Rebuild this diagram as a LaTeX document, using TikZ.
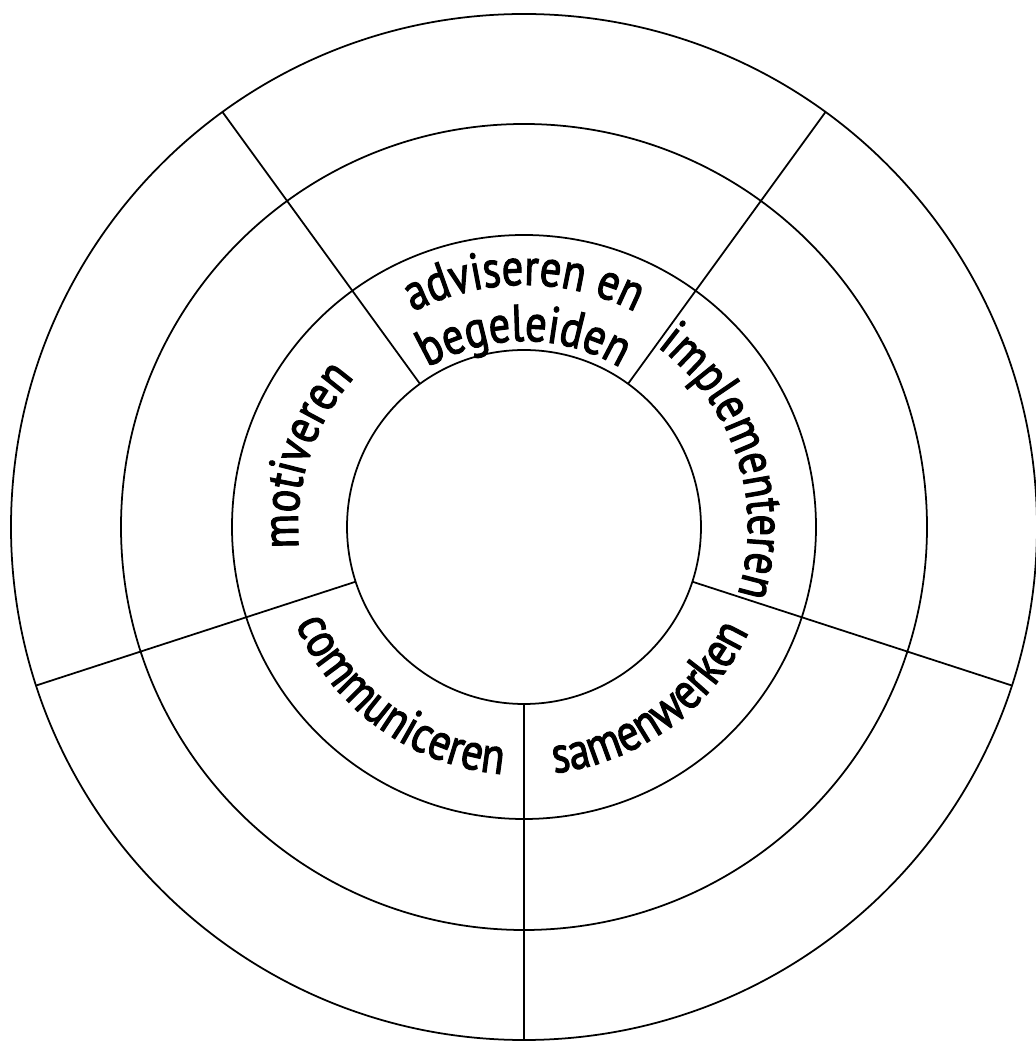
\documentclass[tikz,border=0pt]{standalone}
\usepackage{fontspec}
\newfontfamily\ptsans{PT Sans}[FakeStretch=0.82, FakeBold=2]
\usetikzlibrary{math, calc}
\usetikzlibrary{decorations.text}
\newcommand{\ringfont}{\ptsans\fontsize{29.5}{34}\selectfont}

\begin{document}
\begin{tikzpicture}[
  wheel/.style={line width=1pt},
  ringtext/.style={decorate, decoration={text along path, text align=center, text={|\ringfont|#1}}}
]
\tikzmath{
\ra=3.54;
\rb=5.84;
\rc=8.06;
\rd=10.26;
}
\useasboundingbox (-10.48,-10.28) rectangle (10.22,10.54);
\coordinate (C) at (0,0);

\draw[wheel] (C) circle(\ra);
\draw[wheel] (C) circle(\rb);
\draw[wheel] (C) circle(\rc);
\draw[wheel] (C) circle(\rd);

\foreach \a in {-90,-18,54,126,198}
  \draw[wheel] ($(C)+(\a:\ra)$) -- ($(C)+(\a:\rd)$);

% texts in the inner ring
\path[ringtext={adviseren en}] ($(C)+(150:4.84)$) arc (150:30:4.84);
\path[ringtext={begeleiden}] ($(C)+(150:3.72)$) arc (150:30:3.72);
\path[ringtext={implementeren}] ($(C)+(60:4.48)$) arc (60:-24:4.48);
\path[ringtext={samenwerken}] ($(C)+(-100:4.96)$) arc (-100:-8:4.96);
\path[ringtext={communiceren}] ($(C)+(190:4.96)$) arc (190:278:4.96);
\path[ringtext={motiveren}] ($(C)+(200:4.52)$) arc (200:124:4.52);
\end{tikzpicture}
\end{document}
